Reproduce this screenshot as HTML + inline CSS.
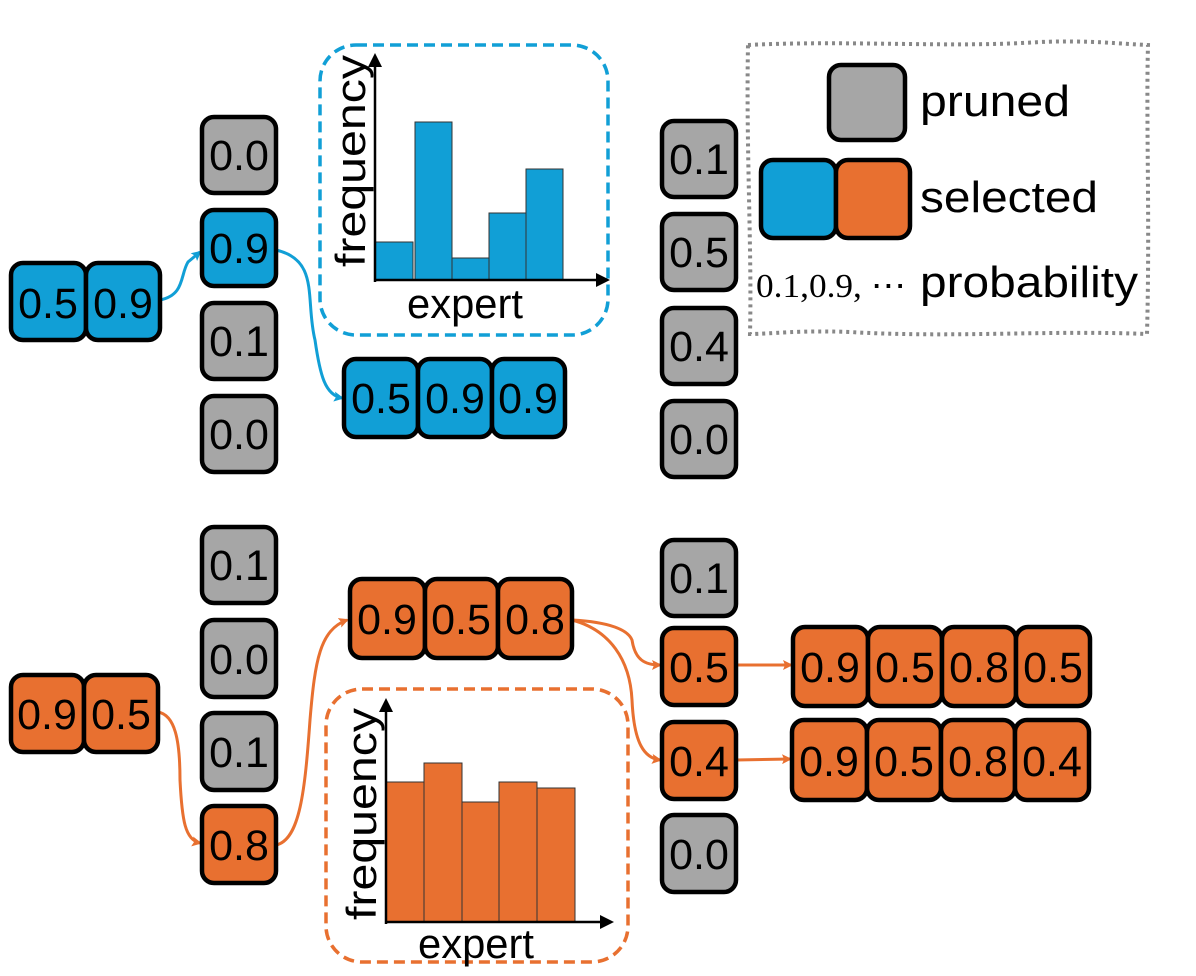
<!DOCTYPE html>
<html><head><meta charset="utf-8"><style>
html,body{margin:0;padding:0;background:#fff;}
svg{display:block;}
text{font-family:"Liberation Sans",sans-serif;}
</style></head><body>
<svg width="1196" height="976" viewBox="0 0 1196 976" xmlns="http://www.w3.org/2000/svg">
<defs>
<marker id="ab" markerWidth="10" markerHeight="10" refX="8" refY="5" orient="auto" markerUnits="userSpaceOnUse" viewBox="0 0 10 10"><path d="M0,0 L10,5 L0,10 L2,5 z" fill="#119fd6"/></marker>
<marker id="ao" markerWidth="10" markerHeight="10" refX="8" refY="5" orient="auto" markerUnits="userSpaceOnUse" viewBox="0 0 10 10"><path d="M0,0 L10,5 L0,10 L2,5 z" fill="#e87030"/></marker>
<marker id="ak" markerWidth="14" markerHeight="14" refX="10" refY="7" orient="auto" markerUnits="userSpaceOnUse" viewBox="0 0 14 14"><path d="M0,0 L14,7 L0,14 z" fill="#000"/></marker>
<style>
.b{stroke:#000;stroke-width:4.5;}
.g{fill:#a6a6a6}.bl{fill:#119fd6}.o{fill:#e87030}
.t{font-size:43px;text-anchor:middle;fill:#000}
</style>
</defs>

<!-- connectors -->
<g fill="none" stroke-width="3">
<path d="M160,300 C185,295 180,275 188,262 L200,252" stroke="#119fd6" marker-end="url(#ab)"/>
<path d="M276,250 C320,260 305,300 315,340 C320,375 325,395 342,398" stroke="#119fd6" marker-end="url(#ab)"/>
<path d="M158,712 C175,715 180,740 180,780 C182,820 185,840 200,843" stroke="#e87030" marker-end="url(#ao)"/>
<path d="M276,845 C300,840 305,790 310,720 C315,660 320,630 347,620" stroke="#e87030" marker-end="url(#ao)"/>
<path d="M572,620 C610,622 628,630 632,640 C635,660 645,665 660,665" stroke="#e87030" marker-end="url(#ao)"/>
<path d="M572,620 C610,630 630,660 632,700 C634,745 645,758 660,760" stroke="#e87030" marker-end="url(#ao)"/>
<path d="M736,665 L791,665" stroke="#e87030" marker-end="url(#ao)"/>
<path d="M736,760 L790,759" stroke="#e87030" marker-end="url(#ao)"/>
</g>

<!-- blue hist -->
<rect x="320" y="45" width="288" height="290" rx="36" fill="none" stroke="#119fd6" stroke-width="3.5" stroke-dasharray="11,6"/>
<g fill="#119fd6" stroke="#333" stroke-width="1">
<rect x="375" y="242" width="38" height="38"/>
<rect x="415" y="122" width="37" height="158"/>
<rect x="452" y="258" width="37" height="22"/>
<rect x="489" y="213" width="37" height="67"/>
<rect x="526" y="169" width="37" height="111"/>
</g>
<line x1="375" y1="282" x2="375" y2="57" stroke="#000" stroke-width="2.5" marker-end="url(#ak)"/>
<line x1="374" y1="280" x2="606" y2="280" stroke="#000" stroke-width="2.5" marker-end="url(#ak)"/>
<text x="0" y="0" transform="translate(365,161) rotate(-90)" font-size="42" text-anchor="middle" textLength="212" lengthAdjust="spacingAndGlyphs">frequency</text>
<text x="407" y="318" font-size="42" textLength="116" lengthAdjust="spacingAndGlyphs">expert</text>

<!-- orange hist -->
<rect x="326" y="689" width="302" height="273" rx="36" fill="none" stroke="#e87030" stroke-width="3.5" stroke-dasharray="11,6"/>
<g fill="#e87030" stroke="#333" stroke-width="1">
<rect x="386" y="782" width="38" height="140"/>
<rect x="424" y="763" width="38" height="159"/>
<rect x="462" y="802" width="37" height="120"/>
<rect x="499" y="782" width="38" height="140"/>
<rect x="537" y="788" width="38" height="134"/>
</g>
<line x1="386" y1="924" x2="386" y2="702" stroke="#000" stroke-width="2.5" marker-end="url(#ak)"/>
<line x1="385" y1="922" x2="610" y2="922" stroke="#000" stroke-width="2.5" marker-end="url(#ak)"/>
<text x="0" y="0" transform="translate(376,814) rotate(-90)" font-size="42" text-anchor="middle" textLength="212" lengthAdjust="spacingAndGlyphs">frequency</text>
<text x="418" y="958" font-size="42" textLength="116" lengthAdjust="spacingAndGlyphs">expert</text>

<!-- boxes -->
<g>
<rect class="b bl" x="11" y="263" width="75" height="77" rx="12"/><text class="t" x="48" y="318">0.5</text>
<rect class="b bl" x="86" y="263" width="74" height="77" rx="12"/><text class="t" x="123" y="318">0.9</text>
<rect class="b g" x="202" y="117" width="74" height="76" rx="12"/><text class="t" x="239" y="170">0.0</text>
<rect class="b bl" x="202" y="210" width="74" height="76" rx="12"/><text class="t" x="239" y="263">0.9</text>
<rect class="b g" x="202" y="303" width="74" height="76" rx="12"/><text class="t" x="239" y="356">0.1</text>
<rect class="b g" x="202" y="396" width="74" height="76" rx="12"/><text class="t" x="239" y="449">0.0</text>
<rect class="b bl" x="344" y="359" width="74" height="78" rx="12"/><text class="t" x="381" y="413">0.5</text>
<rect class="b bl" x="418" y="359" width="74" height="78" rx="12"/><text class="t" x="455" y="413">0.9</text>
<rect class="b bl" x="492" y="359" width="73" height="78" rx="12"/><text class="t" x="528" y="413">0.9</text>
<rect class="b g" x="662" y="121" width="74" height="76" rx="12"/><text class="t" x="699" y="174">0.1</text>
<rect class="b g" x="662" y="214" width="74" height="76" rx="12"/><text class="t" x="699" y="267">0.5</text>
<rect class="b g" x="662" y="308" width="74" height="76" rx="12"/><text class="t" x="699" y="361">0.4</text>
<rect class="b g" x="662" y="401" width="74" height="76" rx="12"/><text class="t" x="699" y="454">0.0</text>

<rect class="b o" x="11" y="675" width="73" height="77" rx="12"/><text class="t" x="47" y="729">0.9</text>
<rect class="b o" x="84" y="675" width="74" height="77" rx="12"/><text class="t" x="121" y="729">0.5</text>
<rect class="b g" x="202" y="527" width="74" height="76" rx="12"/><text class="t" x="239" y="580">0.1</text>
<rect class="b g" x="202" y="620" width="74" height="77" rx="12"/><text class="t" x="239" y="674">0.0</text>
<rect class="b g" x="202" y="713" width="74" height="77" rx="12"/><text class="t" x="239" y="767">0.1</text>
<rect class="b o" x="202" y="806" width="74" height="77" rx="12"/><text class="t" x="239" y="860">0.8</text>
<rect class="b o" x="350" y="579" width="75" height="79" rx="12"/><text class="t" x="387" y="634">0.9</text>
<rect class="b o" x="425" y="579" width="73" height="79" rx="12"/><text class="t" x="461" y="634">0.5</text>
<rect class="b o" x="498" y="579" width="74" height="79" rx="12"/><text class="t" x="535" y="634">0.8</text>
<rect class="b g" x="662" y="540" width="74" height="76" rx="12"/><text class="t" x="699" y="593">0.1</text>
<rect class="b o" x="662" y="628" width="74" height="77" rx="12"/><text class="t" x="699" y="682">0.5</text>
<rect class="b o" x="662" y="722" width="74" height="77" rx="12"/><text class="t" x="699" y="776">0.4</text>
<rect class="b g" x="662" y="815" width="74" height="77" rx="12"/><text class="t" x="699" y="869">0.0</text>
<rect class="b o" x="793" y="627" width="75" height="79" rx="12"/><text class="t" x="830" y="682">0.9</text>
<rect class="b o" x="868" y="627" width="74" height="79" rx="12"/><text class="t" x="905" y="682">0.5</text>
<rect class="b o" x="942" y="627" width="74" height="79" rx="12"/><text class="t" x="979" y="682">0.8</text>
<rect class="b o" x="1016" y="627" width="74" height="79" rx="12"/><text class="t" x="1053" y="682">0.5</text>
<rect class="b o" x="792" y="720" width="75" height="80" rx="12"/><text class="t" x="829" y="776">0.9</text>
<rect class="b o" x="867" y="720" width="74" height="80" rx="12"/><text class="t" x="904" y="776">0.5</text>
<rect class="b o" x="941" y="720" width="74" height="80" rx="12"/><text class="t" x="978" y="776">0.8</text>
<rect class="b o" x="1015" y="720" width="74" height="80" rx="12"/><text class="t" x="1052" y="776">0.4</text>
</g>

<!-- legend -->
<path d="M748,45 C850,40 950,48 1040,42 C1090,40 1120,44 1148,45 C1146,120 1150,220 1147,334 C1050,330 950,338 850,332 C800,330 770,334 750,334 C752,250 746,150 748,45 z" fill="none" stroke="#888" stroke-width="4" stroke-dasharray="3,4"/>
<rect class="b g" x="829" y="65" width="76" height="75" rx="12"/>
<rect class="b bl" x="761" y="160" width="75" height="78" rx="12"/>
<rect class="b o" x="836" y="160" width="74" height="78" rx="12"/>
<text x="920" y="116" font-size="44" textLength="150" lengthAdjust="spacingAndGlyphs">pruned</text>
<text x="920" y="212" font-size="44" textLength="178" lengthAdjust="spacingAndGlyphs">selected</text>
<text x="756" y="297" font-size="34" style="font-family:'Liberation Serif',serif" textLength="150" lengthAdjust="spacingAndGlyphs">0.1,0.9, ⋯</text>
<text x="920" y="297" font-size="44" textLength="218" lengthAdjust="spacingAndGlyphs">probability</text>
</svg>
</body></html>
